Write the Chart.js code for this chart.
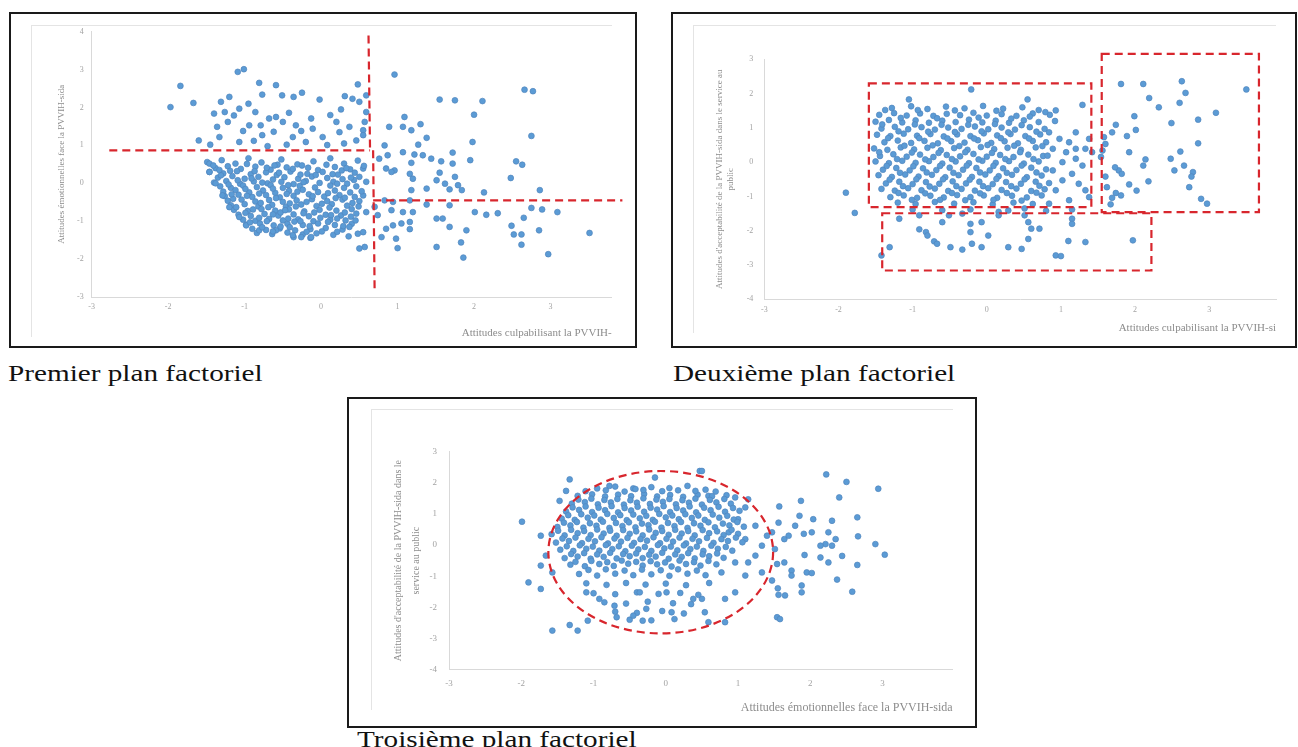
<!DOCTYPE html>
<html><head><meta charset="utf-8">
<script src="https://cdn.jsdelivr.net/npm/chart.js@4.4.1/dist/chart.umd.min.js"></script>
<style>
html,body{margin:0;padding:0;background:#fff;width:1298px;height:747px;overflow:hidden;position:relative;}
canvas{position:absolute;left:0;top:0;}
.frame{position:absolute;border:2px solid #1a1a1a;box-sizing:border-box;}
.gl{position:absolute;background:#e4e4e4;}
.cap{position:absolute;font-family:'Liberation Serif',serif;font-size:23px;line-height:23px;color:#111;transform-origin:0 0;white-space:nowrap;transform:scaleX(1.27);}
</style></head><body>
<div class="frame" style="left:9px;top:12px;width:628px;height:336px"></div>
<div class="frame" style="left:671px;top:12px;width:626px;height:336px"></div>
<div class="frame" style="left:347px;top:397px;width:630px;height:331px"></div>
<div class="gl" style="left:31px;top:25px;width:581px;height:1px"></div>
<div class="gl" style="left:31px;top:25px;width:1px;height:312px"></div>
<div class="gl" style="left:693px;top:25px;width:583px;height:1px"></div>
<div class="gl" style="left:693px;top:25px;width:1px;height:308px"></div>
<div class="gl" style="left:371px;top:409px;width:582px;height:1px"></div>
<div class="gl" style="left:371px;top:409px;width:1px;height:301px"></div>
<div class="cap" style="left:8px;top:362px">Premier plan factoriel</div>
<div class="cap" style="left:673px;top:362px">Deuxième plan factoriel</div>
<div class="cap" style="left:357px;top:728px">Troisième plan factoriel</div>
<canvas id="c1" width="1298" height="747"></canvas>
<canvas id="c2" width="1298" height="747"></canvas>
<canvas id="c3" width="1298" height="747"></canvas>
<script>
// ---------- DATA ----------
const plan1XTicks = [-3,-2,-1,0,1,2,3];
const plan1YTicks = [-3,-2,-1,0,1,2,3,4];
const plan2XTicks = [-3,-2,-1,0,1,2,3];
const plan2YTicks = [-4,-3,-2,-1,0,1,2,3];
const plan3XTicks = [-3,-2,-1,0,1,2,3];
const plan3YTicks = [-4,-3,-2,-1,0,1,2,3];

const plan1Titles = {x:'Attitudes culpabilisant la PVVIH-', y:'Attitudes émotionnelles face la PVVIH-sida'};
const plan2Titles = {x:'Attitudes culpabilisant la PVVIH-si', y:["Attitudes d'acceptabilité de la PVVIH-sida dans le service au","public"]};
const plan3Titles = {x:'Attitudes émotionnelles face la PVVIH-sida', y:["Attitudes d'acceptabilité de la PVVIH-sida dans le","service au public"]};

const plan1Points = [
[-1.84,2.57],[-1.97,2.01],[-1.67,2.12],[-1.09,2.94],[-1.01,3.01],[-0.81,2.65],[-0.59,2.59],[-0.77,2.34],[-0.51,2.32],[-0.36,2.28],[-0.25,2.39],[-0.02,2.21],[0.31,2.30],[0.48,2.61],[0.41,2.23],[0.50,2.15],
[-1.31,2.15],[-1.20,2.28],[-1.40,1.84],[-1.36,1.49],[-1.07,1.97],[-1.14,1.79],[-0.94,1.53],[-0.86,1.88],[-0.68,1.71],[-0.59,1.75],[-0.50,1.62],[-0.79,1.53],[-0.33,1.53],[-0.13,1.71],[-0.11,1.44],[0.20,1.62],[-1.33,1.22],[-1.60,1.13],[-1.07,1.09],[-0.77,1.27],[-0.37,1.22],[-0.20,1.09],[0.02,1.22],[0.24,1.35],[0.37,1.49],[0.46,1.13],
[-1.22,1.62],[-1.02,1.38],[-0.88,1.12],[-0.62,1.36],[-0.45,1.02],[-0.26,1.38],[0.08,1.01],[0.12,1.80],[0.30,1.05],[-1.45,1.02],[-0.70,0.98],[0.55,1.40],[0.59,2.32],[0.59,1.88],[0.57,1.62],[0.55,1.27],[-1.26,1.88],[-0.95,2.10],[-0.42,1.86],[0.26,1.95],
[0.96,2.87],[1.55,2.21],[1.75,2.19],[2.11,2.17],[2.00,1.81],[2.66,2.47],[2.77,2.43],[2.75,1.25],[1.98,1.09],[1.95,0.61],[2.55,0.58],[2.63,0.49],[2.48,0.14],[2.86,-0.18],[2.13,-0.24],[2.01,-0.76],[2.16,-0.83],[2.31,-0.79],[2.75,-0.65],[2.89,-0.69],[3.09,-0.76],[2.65,-0.91],[2.49,-1.12],[2.52,-1.35],[2.62,-1.35],[2.85,-1.24],[2.62,-1.62],[2.97,-1.87],[1.86,-1.96],[1.83,-1.56],[1.90,-1.24],[1.51,-1.68],[3.51,-1.31],
[1.09,1.75],[1.30,1.56],[1.07,1.49],[1.18,1.40],[1.38,1.20],[1.27,1.02],[1.72,0.81],[1.07,0.82],[1.22,0.76],[1.33,0.74],[1.44,0.65],[1.57,0.58],[1.72,0.52],[1.18,0.54],[1.55,0.28],[1.16,0.25],[1.20,0.12],[1.51,0.08],[1.62,-0.01],[1.75,0.17],[1.79,-0.05],[1.84,-0.18],[1.68,-0.16],[1.38,-0.14],[1.18,-0.18],[0.96,0.34],[0.87,0.74],[0.89,1.49],
[1.38,-0.56],[1.68,-0.58],[1.16,-0.45],[0.94,-0.49],[0.83,-0.45],[0.92,-0.71],[1.07,-0.76],[1.20,-0.76],[1.59,-0.93],[1.51,-0.93],[1.68,-1.15],[1.16,-1.02],[1.16,-1.21],[1.05,-1.06],[0.94,-1.11],[0.85,-1.20],[0.98,-1.46],[1.00,-1.71],[0.79,-1.42],[0.57,-1.68],[0.70,-0.62],[0.74,-0.84],[0.85,0.39],[0.83,1.00],[0.92,0.30],[0.76,0.65],[0.55,0.39],[0.59,0.04],[0.55,-0.32],[0.59,-0.76],[0.55,-1.29],
[-1.49,0.56],[-1.30,0.61],[-1.12,0.52],[-0.95,0.66],[-0.78,0.55],[-0.52,0.63],[-0.31,0.50],[-0.10,0.58],[0.12,0.66],[0.30,0.52],[0.48,0.60],
[-1.38,0.40],[-1.22,0.45],[-1.05,0.38],[-0.86,0.44],[-0.66,0.36],[-0.45,0.42],[-0.25,0.47],[-0.04,0.35],[0.18,0.43],[0.38,0.37],[0.56,0.46],
[-1.46,0.30],[-1.28,0.26],[-1.10,0.32],[-0.92,0.24],[-0.72,0.29],[-0.58,0.22],[-0.40,0.31],[-0.18,0.25],[0.02,0.30],[0.22,0.23],[0.44,0.28],
[-1.35,0.15],[-1.16,0.19],[-1.00,0.12],[-0.82,0.17],[-0.63,0.10],[-0.48,0.16],[-0.30,0.12],[-0.12,0.18],[0.08,0.14],[0.28,0.11],[0.50,0.17],
[-1.40,0.02],[-1.24,0.06],[-1.06,-0.01],[-0.88,0.05],[-0.70,0.00],[-0.52,0.04],[-0.36,-0.02],[-0.20,0.06],[-0.02,0.01],[0.16,0.04],[0.34,-0.01],
[-1.32,-0.08],[-1.18,-0.12],[-1.02,-0.06],[-0.84,-0.10],[-0.66,-0.05],[-0.50,-0.12],[-0.28,-0.07],[-0.08,-0.11],[0.12,-0.06],[0.30,-0.12],[0.46,-0.08],
[-1.28,-0.22],[-1.12,-0.18],[-0.94,-0.24],[-0.76,-0.19],[-0.60,-0.25],[-0.42,-0.20],[-0.24,-0.17],[-0.04,-0.23],[0.18,-0.19],[0.38,-0.24],
[-1.26,-0.34],[-1.08,-0.30],[-0.90,-0.36],[-0.72,-0.31],[-0.54,-0.37],[-0.36,-0.33],[-0.16,-0.29],[0.04,-0.35],[0.24,-0.31],[0.44,-0.36],
[-1.22,-0.46],[-1.04,-0.43],[-0.86,-0.48],[-0.68,-0.44],[-0.50,-0.49],[-0.32,-0.45],[-0.12,-0.42],[0.08,-0.47],[0.28,-0.43],[0.50,-0.47],
[-1.18,-0.58],[-1.00,-0.55],[-0.82,-0.61],[-0.64,-0.57],[-0.46,-0.62],[-0.26,-0.56],[-0.06,-0.60],[0.14,-0.55],[0.34,-0.59],
[-1.14,-0.70],[-0.96,-0.73],[-0.78,-0.68],[-0.60,-0.72],[-0.42,-0.69],[-0.22,-0.74],[-0.02,-0.70],[0.20,-0.72],[0.40,-0.68],
[-1.08,-0.83],[-0.92,-0.86],[-0.74,-0.81],[-0.56,-0.85],[-0.36,-0.82],[-0.16,-0.87],[0.06,-0.83],[0.26,-0.85],[0.46,-0.80],
[-1.02,-0.96],[-0.86,-0.99],[-0.68,-0.94],[-0.50,-0.98],[-0.30,-0.95],[-0.10,-1.00],[0.12,-0.96],[0.32,-0.98],
[-0.98,-1.09],[-0.80,-1.06],[-0.62,-1.11],[-0.44,-1.07],[-0.24,-1.10],[-0.04,-1.06],[0.18,-1.10],[0.40,-1.07],
[-0.90,-1.20],[-0.72,-1.23],[-0.54,-1.19],[-0.34,-1.24],[-0.14,-1.21],[0.06,-1.18],[0.28,-1.22],
[-0.84,-1.31],[-0.64,-1.34],[-0.44,-1.30],[-0.24,-1.35],[-0.06,-1.32],[0.16,-1.36],
[-0.36,-1.42],[-0.14,-1.44],[0.36,-1.40],[0.37,-1.15],[0.50,-1.72],[0.48,-1.33],[0.13,-0.84],
[-1.46,0.52],[-1.46,0.30],[-1.38,0.00],[-1.29,-0.32],[-1.20,-0.63],[-1.07,-0.89],[-0.98,-1.11],[-0.81,-1.24],[-0.59,-1.24],[-0.37,-1.37],[-0.26,-1.42],[-0.13,-1.42]
];
const plan1PointsB = [
[-1.41,0.47],[-1.19,0.33],[-0.97,0.51],[-0.71,0.41],[-0.57,0.49],[-0.37,0.38],[-0.17,0.41],[0.07,0.49],[0.27,0.34],[0.43,0.09],
[-1.31,0.21],[-1.09,0.08],[-0.91,0.13],[-0.77,0.02],[-0.55,0.28],[-0.43,-0.05],[-0.23,0.03],[-0.07,0.22],[0.21,-0.01],[0.39,0.15],
[-1.21,-0.03],[-0.99,-0.15],[-0.81,-0.27],[-0.63,-0.14],[-0.45,-0.28],[-0.31,-0.22],[-0.11,-0.34],[0.09,-0.26],[0.31,-0.38],[0.53,-0.21],
[-1.15,-0.41],[-0.97,-0.33],[-0.79,-0.52],[-0.59,-0.39],[-0.41,-0.53],[-0.19,-0.49],[0.01,-0.54],[0.19,-0.39],[0.41,-0.52],
[-1.11,-0.63],[-0.89,-0.69],[-0.69,-0.63],[-0.53,-0.77],[-0.33,-0.61],[-0.09,-0.77],[0.11,-0.64],[0.31,-0.77],[0.49,-0.61],
[-0.99,-0.78],[-0.81,-0.91],[-0.63,-0.82],[-0.43,-0.93],[-0.23,-0.79],[-0.01,-0.91],[0.21,-0.93],[0.39,-0.88],
[-0.93,-1.03],[-0.71,-1.00],[-0.53,-1.14],[-0.35,-1.01],[-0.15,-1.13],[0.09,-1.02],[0.29,-1.13],
[-0.77,-1.16],[-0.63,-1.27],[-0.41,-1.16],[-0.19,-1.28],[0.01,-1.27],[0.21,-1.28],
[-1.33,0.35],[-1.17,-0.29],[-0.87,0.32],[-0.61,0.47],[-0.27,0.23],[0.15,0.24],[0.33,0.40],[-0.47,-0.71],[-0.27,-1.00],[0.45,-0.98]
];

const plan2Points = [
[-1.90,-0.89],[-1.78,-1.48],[-0.21,2.12],[-1.05,1.83],[0.55,1.83],
[-1.28,1.58],[-1.02,1.63],[-0.80,1.55],[-0.55,1.62],[-0.30,1.57],[-0.05,1.64],[0.22,1.56],[0.48,1.60],[0.70,1.52],
[-1.45,1.38],[-1.25,1.43],[-1.08,1.36],[-0.90,1.42],[-0.72,1.35],[-0.54,1.41],[-0.36,1.37],[-0.18,1.44],[0.00,1.36],[0.20,1.40],[0.40,1.35],[0.62,1.42],[0.85,1.38],
[-1.50,1.18],[-1.32,1.23],[-1.14,1.16],[-0.96,1.22],[-0.78,1.15],[-0.60,1.21],[-0.42,1.17],[-0.24,1.24],[-0.06,1.16],[0.12,1.21],[0.30,1.15],[0.50,1.22],[0.70,1.17],[0.92,1.20],
[-1.42,0.98],[-1.24,1.03],[-1.06,0.96],[-0.88,1.02],[-0.70,0.95],[-0.52,1.01],[-0.34,0.97],[-0.16,1.04],[0.02,0.96],[0.20,1.01],[0.38,0.95],[0.58,1.02],[0.78,0.97],
[-1.48,0.80],[-1.30,0.76],[-1.12,0.83],[-0.94,0.77],[-0.76,0.82],[-0.58,0.75],[-0.40,0.81],[-0.22,0.76],[-0.04,0.84],[0.14,0.78],[0.32,0.82],[0.52,0.76],[0.72,0.81],
[-1.38,0.58],[-1.20,0.63],[-1.02,0.56],[-0.84,0.62],[-0.66,0.55],[-0.48,0.61],[-0.30,0.57],[-0.12,0.64],[0.06,0.56],[0.24,0.61],[0.42,0.55],[0.62,0.62],[0.80,0.58],
[-1.52,0.40],[-1.34,0.36],[-1.16,0.43],[-0.98,0.37],[-0.80,0.42],[-0.62,0.35],[-0.44,0.41],[-0.26,0.36],[-0.08,0.44],[0.10,0.38],[0.28,0.42],[0.46,0.36],[0.66,0.43],
[-1.44,0.18],[-1.26,0.23],[-1.08,0.16],[-0.90,0.22],[-0.72,0.15],[-0.54,0.21],[-0.36,0.17],[-0.18,0.24],[0.00,0.16],[0.18,0.21],[0.36,0.15],[0.56,0.22],[0.76,0.18],
[-1.50,0.02],[-1.32,-0.03],[-1.14,0.04],[-0.96,-0.02],[-0.78,0.03],[-0.60,-0.04],[-0.42,0.02],[-0.24,-0.03],[-0.06,0.04],[0.12,-0.02],[0.30,0.03],[0.50,-0.04],[0.70,0.02],
[-1.40,-0.22],[-1.22,-0.17],[-1.04,-0.24],[-0.86,-0.18],[-0.68,-0.23],[-0.50,-0.16],[-0.32,-0.22],[-0.14,-0.17],[0.04,-0.24],[0.22,-0.18],[0.40,-0.23],[0.60,-0.16],[0.80,-0.21],
[-1.46,-0.38],[-1.28,-0.43],[-1.10,-0.36],[-0.92,-0.42],[-0.74,-0.37],[-0.56,-0.44],[-0.38,-0.38],[-0.20,-0.43],[-0.02,-0.36],[0.16,-0.41],[0.34,-0.37],[0.54,-0.44],[0.74,-0.39],
[-1.36,-0.62],[-1.18,-0.57],[-1.00,-0.64],[-0.82,-0.58],[-0.64,-0.63],[-0.46,-0.56],[-0.28,-0.62],[-0.10,-0.57],[0.08,-0.64],[0.26,-0.58],[0.46,-0.63],[0.66,-0.57],[0.84,-0.61],
[-1.42,-0.78],[-1.24,-0.83],[-1.06,-0.76],[-0.88,-0.82],[-0.70,-0.77],[-0.52,-0.84],[-0.34,-0.78],[-0.16,-0.83],[0.02,-0.76],[0.20,-0.81],[0.40,-0.77],[0.60,-0.84],[0.78,-0.79],
[-1.30,-1.02],[-1.12,-0.97],[-0.94,-1.04],[-0.76,-0.98],[-0.58,-1.03],[-0.40,-0.96],[-0.22,-1.02],[-0.04,-0.97],[0.14,-1.04],[0.34,-0.98],[0.54,-1.03],[0.74,-0.97],
[-1.20,-1.18],[-0.96,-1.22],[-0.70,-1.16],[-0.44,-1.21],[-0.18,-1.17],[0.08,-1.23],[0.36,-1.18],[0.62,-1.22],
[-0.60,-1.40],[-0.22,-1.38],[0.16,-1.45],[0.51,-1.35],[0.80,-1.42],[1.15,-1.38],[-1.00,-1.38],[0.29,-1.41],
[-0.91,-1.96],[-0.82,-2.04],[-0.80,-2.14],[-0.71,-2.31],[-0.67,-2.38],[-0.49,-2.48],[-0.33,-2.55],[-0.20,-2.38],[-0.07,-2.48],[0.02,-2.14],[-0.22,-2.04],[0.29,-2.48],[0.47,-2.53],[0.56,-2.24],[0.60,-1.94],[0.71,-1.94],[-1.31,-2.48],[-1.42,-2.72],[-0.60,-1.75],[-0.22,-1.80],[-0.07,-1.75],[-1.18,-1.65],[-0.91,-1.55],[-0.51,-1.55],[-0.33,-1.50],[0.16,-1.55],[0.51,-1.55],[0.56,-1.75],
[1.10,-2.30],[1.33,-2.33],[1.97,-2.28],[0.93,-2.72],[1.00,-2.74],[1.15,-1.65],[1.15,-1.80],
[0.84,0.87],[0.98,0.68],[1.11,0.58],[1.20,0.39],[1.07,0.29],[0.89,0.39],[1.20,0.10],[1.02,0.00],[1.29,-0.10],[0.89,-0.24],[1.15,-0.34],[1.02,-0.53],[1.24,-0.63],[0.93,-0.82],[1.33,-0.82],[0.84,-1.21],[1.11,-1.11],[1.38,-1.02],[0.82,0.19],[1.33,0.39],[1.20,0.87],[1.38,0.68],[1.42,0.29],[1.29,1.67],[0.93,1.51],
[1.81,2.28],[2.11,2.28],[2.63,2.36],[2.68,2.02],[2.19,1.87],[2.60,1.73],[2.32,1.60],[3.50,2.12],[3.09,1.44],[1.99,1.34],[2.85,1.24],[2.49,1.14],[1.74,1.09],[2.01,0.94],[1.89,0.76],[1.69,0.87],[2.85,0.55],[1.92,0.29],[2.61,0.31],[2.14,0.08],[2.48,0.10],[2.66,-0.10],[2.11,-0.10],[2.53,-0.24],[2.78,-0.29],[2.76,-0.42],[2.18,-0.56],[1.92,-0.65],[2.02,-0.83],[2.73,-0.73],[1.81,-0.97],[1.74,-0.90],[1.69,-1.04],[2.89,-1.07],[2.97,-1.21],[1.67,-1.23],[1.78,-0.24],[1.58,0.73],[1.60,0.53],[1.56,0.34],[1.54,0.15],[1.60,-0.42],[1.73,-0.15],[1.82,-0.34],[1.62,-0.73]
];
const plan2PointsB = [
[-1.37,1.52],[-1.16,1.29],[-0.93,1.52],[-0.67,1.28],[-0.43,1.51],[-0.11,1.30],[0.13,1.50],[0.33,1.27],[0.58,1.33],[0.79,1.46],
[-1.41,1.10],[-1.19,0.90],[-0.97,1.10],[-0.79,0.89],[-0.61,1.09],[-0.43,0.88],[-0.25,1.09],[-0.07,0.90],[0.11,1.11],[0.29,0.87],[0.47,1.08],[0.67,0.89],
[-1.33,0.70],[-1.11,0.48],[-0.91,0.70],[-0.73,0.49],[-0.53,0.69],[-0.37,0.47],[-0.17,0.69],[0.01,0.50],[0.19,0.70],[0.37,0.48],[0.57,0.69],[0.75,0.47],
[-1.45,0.29],[-1.21,0.09],[-1.01,0.28],[-0.83,0.08],[-0.65,0.27],[-0.47,0.09],[-0.29,0.29],[-0.11,0.08],[0.07,0.27],[0.25,0.09],[0.45,0.29],[0.63,0.09],
[-1.35,-0.11],[-1.17,-0.31],[-0.99,-0.12],[-0.81,-0.30],[-0.63,-0.11],[-0.45,-0.31],[-0.27,-0.10],[-0.09,-0.30],[0.09,-0.11],[0.27,-0.31],[0.47,-0.10],[0.67,-0.30],
[-1.31,-0.51],[-1.13,-0.70],[-0.95,-0.50],[-0.77,-0.71],[-0.59,-0.50],[-0.41,-0.70],[-0.23,-0.51],[-0.05,-0.70],[0.13,-0.49],[0.33,-0.70],[0.51,-0.50],[0.71,-0.69],
[-1.19,-0.90],[-1.01,-1.10],[-0.83,-0.91],[-0.63,-1.10],[-0.47,-0.90],[-0.29,-1.11],[-0.09,-0.91],[0.09,-1.10],[0.27,-0.90],[0.47,-1.12],[0.67,-0.89]
];

const plan3Points = [
[-1.99,0.75],[-1.33,2.11],[-1.38,1.74],[-1.47,1.42],[-1.73,0.30],[-1.73,-0.66],[-1.90,-1.20],[-1.73,-1.41],[-1.57,-2.75],[-1.33,-2.57],[-1.22,-2.75],[-1.08,-2.43],[-0.78,1.90],[-0.45,1.82],[-0.15,2.17],[0.47,2.38],[-1.66,-0.34],[-1.57,-0.88],
[0.50,2.38],[2.22,2.27],[2.50,2.03],[2.94,1.81],[2.40,1.53],[1.87,1.42],[1.57,1.24],[1.85,0.94],[2.04,0.83],[2.30,0.78],[2.65,0.89],[1.79,0.62],[1.91,0.36],[2.02,0.41],[1.64,0.19],[2.25,0.41],[2.21,0.03],[2.30,-0.02],[2.14,-0.02],[2.35,0.19],[2.66,0.28],[2.90,0.03],[3.03,-0.31],[2.44,-0.35],[2.65,-0.64],[2.25,-0.56],[2.14,-0.40],[1.92,-0.32],[1.74,-0.82],[1.74,-0.98],[1.95,-0.88],[2.02,-0.90],[2.37,-1.11],[2.58,-1.50],[1.88,-1.30],[1.88,-1.52],[1.55,-1.39],[1.56,-1.60],[1.65,-1.62],[1.54,-2.32],[1.58,-2.38],[1.47,-1.14],[1.54,-0.61],[1.64,-0.56],[1.51,-0.13],[1.56,0.72],[1.70,0.30],[1.47,0.41],[1.40,0.30],
[0.96,1.53],[1.14,1.47],[1.10,1.21],[0.59,1.58],[1.00,0.83],[1.24,0.62],[0.87,0.41],[1.10,0.19],[1.33,-0.02],[1.24,-0.34],[0.96,-0.56],[0.77,-0.88],[1.10,-0.98],[1.33,-0.88],[0.96,-1.52],[0.82,-1.73],[0.54,-2.16],[0.82,-2.48],[0.59,-2.48],[0.50,-1.73],[1.14,-0.56],
[-0.95,1.82],[-0.70,1.88],[-0.42,1.80],[-0.20,1.86],[0.05,1.83],[0.30,1.90],[0.55,1.78],
[-1.22,1.58],[-1.02,1.63],[-0.84,1.56],[-0.66,1.62],[-0.48,1.57],[-0.30,1.64],[-0.12,1.56],[0.06,1.61],[0.24,1.55],[0.44,1.62],[0.64,1.57],[0.84,1.60],
[-1.30,1.33],[-1.12,1.38],[-0.94,1.31],[-0.76,1.37],[-0.58,1.30],[-0.40,1.36],[-0.22,1.32],[-0.04,1.39],[0.14,1.31],[0.32,1.36],[0.50,1.30],[0.70,1.37],[0.90,1.33],
[-1.38,1.08],[-1.20,1.13],[-1.02,1.06],[-0.84,1.12],[-0.66,1.05],[-0.48,1.11],[-0.30,1.07],[-0.12,1.14],[0.06,1.06],[0.24,1.11],[0.42,1.05],[0.62,1.12],[0.82,1.07],[1.02,1.10],
[-1.44,0.85],[-1.26,0.81],[-1.08,0.88],[-0.90,0.82],[-0.72,0.87],[-0.54,0.80],[-0.36,0.86],[-0.18,0.81],[0.00,0.89],[0.18,0.83],[0.36,0.87],[0.54,0.81],[0.74,0.88],[0.94,0.82],
[-1.50,0.58],[-1.32,0.63],[-1.14,0.56],[-0.96,0.62],[-0.78,0.55],[-0.60,0.61],[-0.42,0.57],[-0.24,0.64],[-0.06,0.56],[0.12,0.61],[0.30,0.55],[0.48,0.62],[0.68,0.57],[0.88,0.63],[1.08,0.59],
[-1.58,0.35],[-1.40,0.31],[-1.22,0.38],[-1.04,0.32],[-0.86,0.37],[-0.68,0.30],[-0.50,0.36],[-0.32,0.31],[-0.14,0.39],[0.04,0.33],[0.22,0.37],[0.40,0.31],[0.60,0.38],[0.80,0.32],[1.00,0.36],
[-1.52,0.08],[-1.34,0.13],[-1.16,0.06],[-0.98,0.12],[-0.80,0.05],[-0.62,0.11],[-0.44,0.07],[-0.26,0.14],[-0.08,0.06],[0.10,0.11],[0.28,0.05],[0.46,0.12],[0.66,0.07],[0.86,0.13],[1.06,0.09],
[-1.46,-0.15],[-1.28,-0.19],[-1.10,-0.12],[-0.92,-0.18],[-0.74,-0.13],[-0.56,-0.20],[-0.38,-0.14],[-0.20,-0.19],[-0.02,-0.11],[0.16,-0.17],[0.34,-0.13],[0.52,-0.19],[0.72,-0.12],[0.92,-0.18],
[-1.40,-0.42],[-1.22,-0.37],[-1.04,-0.44],[-0.86,-0.38],[-0.68,-0.43],[-0.50,-0.36],[-0.32,-0.42],[-0.14,-0.37],[0.04,-0.44],[0.22,-0.38],[0.40,-0.43],[0.60,-0.36],[0.80,-0.41],
[-1.32,-0.63],[-1.12,-0.68],[-0.92,-0.61],[-0.72,-0.67],[-0.52,-0.60],[-0.32,-0.66],[-0.12,-0.62],[0.08,-0.69],[0.28,-0.61],[0.48,-0.66],[0.70,-0.62],
[-1.20,-0.93],[-0.95,-0.98],[-0.70,-0.92],[-0.45,-0.97],[-0.20,-0.94],[0.05,-0.99],[0.30,-0.92],[0.55,-0.97],
[-1.10,-1.23],[-0.82,-1.28],[-0.55,-1.22],[-0.28,-1.27],[0.00,-1.24],[0.28,-1.29],[0.60,-1.22],
[-1.00,-1.55],[-0.70,-1.58],[-0.40,-1.52],[-0.10,-1.57],[0.20,-1.54],[0.45,-1.60],
[-0.85,-1.84],[-0.55,-1.88],[-0.25,-1.82],[0.10,-1.87],[0.35,-1.90],
[-0.70,-2.14],[-0.40,-2.18],[-0.05,-2.12],[0.25,-2.20],
[-0.50,-2.40],[-0.20,-2.42],[0.12,-2.38],
[-1.10,-1.52],[-0.92,-1.73],[-0.71,-1.95],[-0.36,-1.52],[-0.27,-2.05],[0.01,-1.52],[0.08,-2.16],[0.38,-1.73],[-0.45,-2.27],[-0.68,-2.32],[-0.32,-2.43]
];
const plan3PointsB = [
[-1.11,1.73],[-0.83,1.76],[-0.57,1.72],[-0.31,1.77],[-0.05,1.73],[0.17,1.76],[0.41,1.74],[0.69,1.72],
[-1.21,1.46],[-1.03,1.49],[-0.85,1.45],[-0.67,1.48],[-0.49,1.44],[-0.31,1.50],[-0.13,1.46],[0.05,1.48],[0.23,1.44],[0.41,1.49],[0.61,1.45],[0.81,1.48],
[-1.29,1.21],[-1.11,1.24],[-0.93,1.20],[-0.75,1.25],[-0.57,1.19],[-0.39,1.23],[-0.21,1.20],[-0.03,1.25],[0.15,1.19],[0.33,1.24],[0.53,1.20],[0.73,1.23],[0.93,1.19],
[-1.35,0.96],[-1.17,0.99],[-0.99,0.95],[-0.81,1.00],[-0.63,0.96],[-0.45,0.98],[-0.27,0.94],[-0.09,1.00],[0.09,0.95],[0.27,0.99],[0.45,0.95],[0.65,0.98],[0.85,0.94],
[-1.41,0.72],[-1.23,0.74],[-1.05,0.70],[-0.87,0.75],[-0.69,0.71],[-0.51,0.73],[-0.33,0.69],[-0.15,0.75],[0.03,0.71],[0.21,0.74],[0.39,0.70],[0.59,0.73],[0.79,0.69],[0.99,0.74],
[-1.49,0.46],[-1.31,0.49],[-1.13,0.45],[-0.95,0.50],[-0.77,0.46],[-0.59,0.48],[-0.41,0.44],[-0.23,0.50],[-0.05,0.45],[0.13,0.49],[0.31,0.45],[0.51,0.48],[0.71,0.44],[0.91,0.49],
[-1.43,0.21],[-1.25,0.24],[-1.07,0.20],[-0.89,0.25],[-0.71,0.21],[-0.53,0.23],[-0.35,0.19],[-0.17,0.25],[0.01,0.20],[0.19,0.24],[0.37,0.20],[0.57,0.23],[0.77,0.19],[0.97,0.24],
[-1.37,-0.04],[-1.19,-0.01],[-1.01,-0.05],[-0.83,0.00],[-0.65,-0.04],[-0.47,-0.02],[-0.29,-0.06],[-0.11,0.00],[0.07,-0.05],[0.25,-0.01],[0.43,-0.05],[0.63,-0.02],[0.83,-0.06],
[-1.31,-0.29],[-1.13,-0.26],[-0.95,-0.30],[-0.77,-0.25],[-0.59,-0.29],[-0.41,-0.27],[-0.23,-0.31],[-0.05,-0.25],[0.13,-0.30],[0.31,-0.26],[0.51,-0.30],[0.71,-0.27],
[-1.25,-0.54],[-1.03,-0.51],[-0.81,-0.55],[-0.61,-0.50],[-0.41,-0.54],[-0.21,-0.52],[-0.01,-0.56],[0.19,-0.50],[0.39,-0.55],[0.59,-0.51],
[-1.07,-0.80],[-0.83,-0.78],[-0.57,-0.82],[-0.33,-0.79],[-0.07,-0.81],[0.17,-0.78],[0.43,-0.82]
];

// overlay annotations (data units)
const plan1DashedLines = [[-2.77,0.87,0.64,0.87],[0.62,3.90,0.64,0.87],[0.68,0.87,0.70,-2.90],[0.68,-0.45,3.94,-0.45]];
const plan2DashedRects = [[-1.59,2.30,1.41,-1.31],[1.55,3.16,3.67,-1.46],[-1.41,-1.49,2.22,-3.16]];
const plan3DashedEllipse = [-0.07,-0.23,1.555,2.61];

// ---------- RENDER ----------
function overlayPlugin(draw){
  return {id:'overlay', afterDatasetsDraw(chart){
    const c = chart.ctx, xs = chart.scales.x, ys = chart.scales.y;
    c.save();
    c.strokeStyle = '#d8262d'; c.lineWidth = 2.2; c.setLineDash([8,5]);
    draw(c, v => xs.getPixelForValue(v), v => ys.getPixelForValue(v));
    c.restore();
  }};
}

function buildChart(id, pts, o, titles, plugin){
  return new Chart(document.getElementById(id), {
    type:'scatter',
    data:{datasets:[{data: pts.map(p => ({x:p[0], y:p[1]})),
      backgroundColor:'#5b9bd5', borderColor:'#5085bd', borderWidth:0.7,
      pointRadius:2.9, pointHoverRadius:2.9}]},
    options:{
      responsive:false, animation:false, devicePixelRatio:1,
      layout:{padding:{left:o.L - o.W, top:o.T, right:1298 - o.R, bottom:747 - o.B - o.H}},
      plugins:{legend:{display:false}, tooltip:{enabled:false}},
      scales:{
        x:{type:'linear', position:'bottom', min:o.xmin, max:o.xmax,
          afterBuildTicks: s => { s.ticks = o.xticks.map(v => ({value:v})); },
          afterFit: s => { s.height = o.H; },
          grid:{display:false, drawTicks:false},
          border:{display:true, color:'#d9d9d9', width:1},
          ticks:{padding:o.xpad, color:'#a3a3a3', autoSkip:false, maxRotation:0, font:{family:'Liberation Serif', size:o.tf}},
          title:{display:true, text:titles.x, align:'end', color:'#8c8c8c', padding:0, font:{family:'Liberation Serif', size:o.xtf}}},
        y:{type:'linear', position:'left', min:o.ymin, max:o.ymax,
          afterBuildTicks: s => { s.ticks = o.yticks.map(v => ({value:v})); },
          afterFit: s => { s.width = o.W; },
          grid:{display:false, drawTicks:false},
          border:{display:true, color:'#d9d9d9', width:1},
          ticks:{padding:o.ypad, color:'#a3a3a3', autoSkip:false, font:{family:'Liberation Serif', size:o.tf}},
          title:{display:true, text:titles.y, color:'#8c8c8c', padding:0, font:{family:'Liberation Serif', size:o.ytf, lineHeight:o.ylh}}}
      }
    },
    plugins:[plugin]
  });
}

buildChart('c1', plan1Points.concat(plan1PointsB),
  {L:91.7, R:611.7, T:31.7, B:297, W:35.1, H:42.6, xmin:-3, xmax:3.8, ymin:-3, ymax:4,
   xticks:plan1XTicks, yticks:plan1YTicks, xpad:5, ypad:8, tf:8, xtf:11, ytf:9, ylh:1.2},
  plan1Titles,
  overlayPlugin((c, px, py) => {
    plan1DashedLines.forEach(l => { c.beginPath(); c.moveTo(px(l[0]), py(l[1])); c.lineTo(px(l[2]), py(l[3])); c.stroke(); });
  }));

buildChart('c2', plan2Points.concat(plan2PointsB),
  {L:764.3, R:1276, T:59.3, B:299.3, W:49.7, H:35.3, xmin:-3, xmax:3.9, ymin:-4, ymax:3,
   xticks:plan2XTicks, yticks:plan2YTicks, xpad:6, ypad:11, tf:8, xtf:11, ytf:9, ylh:1.2},
  plan2Titles,
  overlayPlugin((c, px, py) => {
    plan2DashedRects.forEach(r => { c.beginPath(); c.rect(px(r[0]), py(r[1]), px(r[2]) - px(r[0]), py(r[3]) - py(r[1])); c.stroke(); });
  }));

buildChart('c3', plan3Points.concat(plan3PointsB),
  {L:449, R:952.7, T:451.7, B:669.5, W:60, H:45.7, xmin:-3, xmax:3.97, ymin:-4, ymax:3,
   xticks:plan3XTicks, yticks:plan3YTicks, xpad:9, ypad:12, tf:9, xtf:12, ytf:10, ylh:1.8},
  plan3Titles,
  overlayPlugin((c, px, py) => {
    const e = plan3DashedEllipse;
    const cx = px(e[0]), cy = py(e[1]);
    const rx = Math.abs(px(e[0] + e[2]) - cx), ry = Math.abs(py(e[1] + e[3]) - cy);
    c.beginPath(); c.ellipse(cx, cy, rx, ry, 0, 0, Math.PI * 2); c.stroke();
  }));
</script>
</body></html>
